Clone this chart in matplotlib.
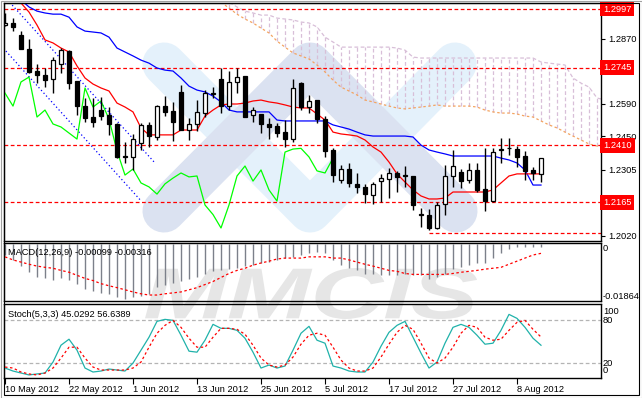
import numpy as np
import matplotlib.pyplot as plt
from matplotlib.lines import Line2D
from matplotlib.patches import Rectangle, PathPatch
from matplotlib.textpath import TextPath
from matplotlib.font_manager import FontProperties
from matplotlib.transforms import Affine2D, blended_transform_factory

plt.rcParams['font.family'] = ['Liberation Sans', 'DejaVu Sans']

# daily bars, 10 May 2012 .. 13 Aug 2012
date_labels = ["10 May 2012", "22 May 2012", "1 Jun 2012", "13 Jun 2012", "25 Jun 2012",
               "5 Jul 2012", "17 Jul 2012", "27 Jul 2012", "8 Aug 2012"]
label_bars = [0, 8, 16, 24, 32, 40, 48, 56, 64]

open_ = [1.2928, 1.2937, 1.2885, 1.2825, 1.2730, 1.2713, 1.2696, 1.2760, 1.2816, 1.2687,
         1.2579, 1.2532, 1.2562, 1.2541, 1.2502, 1.2364, 1.2360, 1.2420, 1.2498, 1.2446,
         1.2579, 1.2558, 1.2640, 1.2476, 1.2502, 1.2549, 1.2631, 1.2696, 1.2579, 1.2683,
         1.2708, 1.2541, 1.2545, 1.2502, 1.2493, 1.2467, 1.2437, 1.2678, 1.2575, 1.2605,
         1.2523, 1.2390, 1.2261, 1.2308, 1.2244, 1.2231, 1.2196, 1.2256, 1.2265, 1.2291,
         1.2282, 1.2278, 1.2116, 1.2110, 1.2054, 1.2157, 1.2278, 1.2295, 1.2261, 1.2304,
         1.2222, 1.2170, 1.2391, 1.2399, 1.2394, 1.2364, 1.2304, 1.2287]
high = [1.2980, 1.2958, 1.2902, 1.2868, 1.2760, 1.2743, 1.2790, 1.2829, 1.2820, 1.2687,
        1.2614, 1.2614, 1.2618, 1.2575, 1.2506, 1.2424, 1.2459, 1.2506, 1.2510, 1.2584,
        1.2622, 1.2597, 1.2670, 1.2528, 1.2605, 1.2648, 1.2661, 1.2743, 1.2730, 1.2743,
        1.2708, 1.2575, 1.2545, 1.2528, 1.2506, 1.2519, 1.2696, 1.2683, 1.2627, 1.2605,
        1.2536, 1.2399, 1.2325, 1.2334, 1.2291, 1.2244, 1.2252, 1.2287, 1.2312, 1.2300,
        1.2321, 1.2278, 1.2140, 1.2136, 1.2166, 1.2325, 1.2390, 1.2308, 1.2334, 1.2334,
        1.2399, 1.2399, 1.2442, 1.2442, 1.2407, 1.2386, 1.2317, 1.2355]
low = [1.2924, 1.2902, 1.2825, 1.2721, 1.2678, 1.2661, 1.2635, 1.2721, 1.2653, 1.2541,
       1.2510, 1.2489, 1.2519, 1.2455, 1.2355, 1.2334, 1.2304, 1.2390, 1.2403, 1.2433,
       1.2536, 1.2429, 1.2476, 1.2433, 1.2472, 1.2532, 1.2614, 1.2549, 1.2562, 1.2635,
       1.2532, 1.2510, 1.2463, 1.2437, 1.2446, 1.2403, 1.2424, 1.2562, 1.2549, 1.2506,
       1.2360, 1.2252, 1.2248, 1.2231, 1.2205, 1.2162, 1.2157, 1.2166, 1.2183, 1.2209,
       1.2231, 1.2132, 1.2058, 1.2046, 1.2050, 1.2110, 1.2231, 1.2226, 1.2248, 1.2209,
       1.2127, 1.2166, 1.2334, 1.2368, 1.2317, 1.2261, 1.2261, 1.2252]
close = [1.2937, 1.2920, 1.2825, 1.2726, 1.2713, 1.2691, 1.2777, 1.2820, 1.2678, 1.2579,
         1.2528, 1.2510, 1.2536, 1.2502, 1.2360, 1.2360, 1.2437, 1.2498, 1.2450, 1.2579,
         1.2554, 1.2510, 1.2476, 1.2502, 1.2554, 1.2635, 1.2635, 1.2579, 1.2683, 1.2704,
         1.2532, 1.2562, 1.2502, 1.2489, 1.2463, 1.2437, 1.2657, 1.2575, 1.2601, 1.2523,
         1.2386, 1.2282, 1.2308, 1.2248, 1.2231, 1.2200, 1.2244, 1.2269, 1.2291, 1.2274,
         1.2278, 1.2153, 1.2112, 1.2054, 1.2153, 1.2278, 1.2321, 1.2256, 1.2304, 1.2218,
         1.2170, 1.2381, 1.2394, 1.2397, 1.2360, 1.2300, 1.2291, 1.2355]

# Ichimoku
tenkan = [1.3122, 1.3070, 1.3023, 1.2984, 1.2928, 1.2864, 1.2851, 1.2829, 1.2812, 1.2752,
          1.2700, 1.2674, 1.2657, 1.2644, 1.2592, 1.2575, 1.2554, 1.2485, 1.2455, 1.2455,
          1.2455, 1.2455, 1.2476, 1.2476, 1.2476, 1.2536, 1.2562, 1.2584, 1.2588, 1.2588,
          1.2592, 1.2601, 1.2605, 1.2597, 1.2592, 1.2584, 1.2575, 1.2571, 1.2571, 1.2545,
          1.2519, 1.2467, 1.2459, 1.2455, 1.2450, 1.2433, 1.2403, 1.2381, 1.2338, 1.2287,
          1.2252, 1.2218, 1.2192, 1.2179, 1.2179, 1.2183, 1.2209, 1.2209, 1.2209, 1.2209,
          1.2209, 1.2218, 1.2248, 1.2278, 1.2287, 1.2287, 1.2287, 1.2287]
kijun = [1.3143, 1.3079, 1.3036, 1.3006, 1.2988, 1.2980, 1.2975, 1.2975, 1.2962, 1.2920,
         1.2902, 1.2898, 1.2894, 1.2876, 1.2829, 1.2812, 1.2795, 1.2777, 1.2764, 1.2743,
         1.2734, 1.2730, 1.2700, 1.2665, 1.2648, 1.2640, 1.2622, 1.2597, 1.2562, 1.2554,
         1.2554, 1.2554, 1.2554, 1.2554, 1.2519, 1.2515, 1.2515, 1.2515, 1.2515, 1.2515,
         1.2515, 1.2498, 1.2489, 1.2480, 1.2467, 1.2455, 1.2450, 1.2450, 1.2450, 1.2450,
         1.2450, 1.2446, 1.2411, 1.2390, 1.2381, 1.2373, 1.2364, 1.2364, 1.2364, 1.2364,
         1.2364, 1.2364, 1.2355, 1.2347, 1.2334, 1.2304, 1.2239, 1.2239]
chikou_shift = 26
cloud_start = 27
span_a = [1.3027, 1.3001, 1.2975, 1.2954, 1.2937, 1.2915, 1.2894, 1.2859, 1.2833, 1.2808,
          1.2795, 1.2782, 1.2756, 1.2726, 1.2691, 1.2661, 1.2644, 1.2627, 1.2605, 1.2597,
          1.2588, 1.2579, 1.2571, 1.2567, 1.2571, 1.2575, 1.2579, 1.2584, 1.2579, 1.2579,
          1.2579, 1.2579, 1.2575, 1.2562, 1.2554, 1.2549, 1.2549, 1.2545, 1.2536, 1.2532,
          1.2515, 1.2498, 1.2485, 1.2467, 1.2450, 1.2433, 1.2416, 1.2407, 1.2403]
span_b = [1.3049, 1.3027, 1.3006, 1.2988, 1.2980, 1.2971, 1.2971, 1.2958, 1.2954, 1.2950,
          1.2941, 1.2937, 1.2920, 1.2876, 1.2855, 1.2833, 1.2833, 1.2833, 1.2833, 1.2833,
          1.2833, 1.2833, 1.2829, 1.2820, 1.2790, 1.2786, 1.2786, 1.2786, 1.2786, 1.2786,
          1.2786, 1.2786, 1.2786, 1.2786, 1.2786, 1.2786, 1.2786, 1.2786, 1.2786, 1.2786,
          1.2769, 1.2764, 1.2760, 1.2756, 1.2700, 1.2678, 1.2661, 1.2614, 1.2605]

# drawn objects: levels and channel
levels = [1.2997, 1.2745, 1.2410, 1.2165]
low_level = 1.2034
low_level_bar = 53
channel = [((-0.2, 1.2828), (16.9, 1.2175)), ((0.9, 1.3014), (18.75, 1.2334))]
price_ticks = [1.2870, 1.2590, 1.2450, 1.2305, 1.2020]
hidden_ticks = [1.2730]  # under the 1.2745 box

macd_main = [-0.0037, -0.0053, -0.0073, -0.0093, -0.0107, -0.0113, -0.0117, -0.0113, -0.0117, -0.0130,
             -0.0147, -0.0153, -0.0160, -0.0163, -0.0173, -0.0180, -0.0175, -0.0170, -0.0164, -0.0142,
             -0.0134, -0.0128, -0.0120, -0.0114, -0.0107, -0.0098, -0.0090, -0.0087, -0.0081, -0.0079,
             -0.0072, -0.0068, -0.0064, -0.0059, -0.0053, -0.0048, -0.0042, -0.0037, -0.0031, -0.0028,
             -0.0031, -0.0053, -0.0070, -0.0079, -0.0087, -0.0098, -0.0098, -0.0103, -0.0103, -0.0101,
             -0.0098, -0.0103, -0.0101, -0.0114, -0.0109, -0.0098, -0.0083, -0.0076, -0.0068, -0.0064,
             -0.0064, -0.0048, -0.0030, -0.0017, -0.0010, -0.0010, -0.0010, -0.00099]
macd_signal = [-0.0043, -0.0053, -0.0060, -0.0067, -0.0073, -0.0077, -0.0080, -0.0087, -0.0093, -0.0103,
               -0.0113, -0.0120, -0.0130, -0.0137, -0.0143, -0.0150, -0.0157, -0.0163, -0.0167, -0.0167,
               -0.0163, -0.0160, -0.0157, -0.0150, -0.0143, -0.0133, -0.0123, -0.0110, -0.0097, -0.0087,
               -0.0080, -0.0070, -0.0063, -0.0057, -0.0050, -0.0047, -0.0047, -0.0047, -0.0043, -0.0043,
               -0.0043, -0.0047, -0.0047, -0.0053, -0.0060, -0.0067, -0.0073, -0.0080, -0.0087, -0.0090,
               -0.0097, -0.0100, -0.0100, -0.0100, -0.0100, -0.0100, -0.0097, -0.0093, -0.0090, -0.0087,
               -0.0083, -0.0080, -0.0077, -0.0067, -0.0057, -0.0047, -0.0037, -0.00316]
macd_min = -0.01864

stoch_k = [13.0, 8.8, 6.0, 3.3, 4.7, 6.0, 21.4, 45.1, 53.5, 38.1,
           13.0, 7.4, 8.8, 11.6, 10.2, 8.8, 20.0, 38.1, 56.3, 78.6,
           81.4, 80.0, 59.1, 36.7, 35.3, 52.1, 74.4, 68.8, 68.8, 66.0,
           54.9, 35.3, 13.0, 17.2, 13.0, 15.8, 38.1, 61.9, 71.6, 52.1,
           47.9, 15.8, 13.0, 8.8, 7.4, 7.4, 21.4, 43.7, 63.2, 73.0,
           78.6, 56.3, 34.0, 13.0, 21.4, 47.9, 70.2, 74.4, 70.2, 59.1,
           46.5, 47.9, 66.0, 88.4, 82.8, 70.2, 54.9, 45.03]
stoch_d = [14.4, 13.0, 7.4, 4.7, 3.3, 6.0, 13.0, 27.0, 42.3, 42.3,
           27.0, 14.4, 10.2, 10.2, 10.2, 10.2, 13.0, 21.4, 42.3, 61.9,
           73.0, 80.0, 70.2, 54.9, 42.3, 42.3, 56.3, 68.8, 68.8, 67.4,
           60.5, 45.1, 27.0, 17.2, 14.4, 17.2, 28.4, 46.5, 59.1, 61.9,
           59.1, 42.3, 24.2, 13.0, 8.8, 8.8, 13.0, 28.4, 46.5, 63.2,
           73.0, 67.4, 47.9, 27.0, 20.0, 27.0, 42.3, 61.9, 73.0, 70.2,
           56.3, 52.1, 53.5, 66.0, 77.2, 80.0, 67.4, 56.64]
stoch_levels = [20, 80]

o = np.array(open_)
c = np.array(close)
hi = np.array(high)
lo = np.array(low)
xs = np.arange(len(c))

W, H = 642, 398
fig = plt.figure(figsize=(W / 100, H / 100), dpi=100)
fig.patch.set_facecolor('white')
FS = 6.7
XMAX = 74.5


def panel(top, bottom):
    ax = fig.add_axes([4 / W, 1 - bottom / H, 597 / W, (bottom - top) / H])
    ax.set_facecolor('none')
    ax.set_xlim(-0.125, XMAX)
    for s in ax.spines.values():
        s.set_linewidth(1.0)
    ax.tick_params(axis='x', bottom=False, labelbottom=False)
    ax.yaxis.tick_right()
    ax.tick_params(axis='y', length=3, width=0.8, pad=2.5, labelsize=FS)
    return ax


# watermark logo and name (behind the panels)
def fxy(pts):
    return [p[0] / W for p in pts], [1 - p[1] / H for p in pts]


for pts, col in [([(164, 64), (310, 211), (455, 64)], '#e4f1fb'),
                 ([(164, 211), (310, 64), (456, 211)], '#dbe2f1')]:
    xx, yy = fxy(pts)
    fig.add_artist(Line2D(xx, yy, transform=fig.transFigure, lw=31, color=col,
                          solid_capstyle='round', solid_joinstyle='round', zorder=-5))

fp = FontProperties(family='Liberation Sans', weight='bold', style='italic')
tp = TextPath((0, 0), 'MMCIS', size=10, prop=fp)
bb = tp.get_extents()
tr = (Affine2D().translate(-bb.x0, -bb.y0)
      .scale((332 / W) / bb.width, (51 / H) / bb.height)
      .translate(145 / W, 1 - 319 / H))
fig.add_artist(PathPatch(tr.transform_path(tp), transform=fig.transFigure,
                         fc='#e6e6e6', ec='none', zorder=-4))

# ---- main price panel ----
ax1 = panel(3, 241)
ax1.set_ylim(1.1998, 1.3023)

cx = np.arange(cloud_start, cloud_start + len(span_a))
ax1.vlines(cx, span_a, span_b, colors='#d8bfd8', lw=0.9, linestyles=[(0, (3, 2))], zorder=1)
ax1.plot(cx, span_b, color='#d8bfd8', lw=0.9, ls=(0, (3, 2)), zorder=1)
ax1.plot(cx, span_a, color='#f4a460', lw=0.9, ls=(0, (2, 2)), zorder=1)

for lv in levels:
    ax1.axhline(lv, color='red', lw=0.9, ls=(0, (3, 2)), zorder=2)
ax1.hlines(low_level, low_level_bar, XMAX, color='red', lw=0.9, linestyles=[(0, (3, 2))], zorder=2)

for (x0, y0), (x1, y1) in channel:
    ax1.plot([x0, x1], [y0, y1], color='blue', lw=0.9, ls=(0, (1, 2)), zorder=2)

ax1.plot(xs, kijun, color='blue', lw=0.9, zorder=3)
ax1.plot(xs, tenkan, color='red', lw=0.9, zorder=3)
ax1.plot(xs[:len(c) - chikou_shift], c[chikou_shift:], color='#00ff00', lw=0.9, zorder=3)

up = c >= o
ax1.vlines(xs, lo, hi, color='black', lw=1.0, zorder=4)
ax1.bar(xs, np.abs(c - o), bottom=np.minimum(o, c), width=0.55,
        color=np.where(up, 'white', 'black'), edgecolor='black', linewidth=0.9, zorder=5)

ax1.set_yticks(price_ticks + hidden_ticks + levels)
ax1.set_yticklabels([f'{p:.4f}' for p in price_ticks] + [''] * (len(hidden_ticks) + len(levels)))
tb1 = blended_transform_factory(ax1.transAxes, ax1.transData)
for lv in levels:
    ax1.text(1 + 2.2 / 597, lv, f'{lv:.4f}', transform=tb1, va='center', ha='left',
             color='white', fontsize=FS, clip_on=False, zorder=10,
             bbox=dict(boxstyle='square,pad=0.3', fc='red', ec='none'))

# ---- MACD panel ----
ax2 = panel(243, 301)
ax2.set_ylim(macd_min, 0.0002)
ax2.vlines(xs, 0, macd_main, color='#7c808a', lw=1.0, zorder=2)
ax2.plot(xs, macd_signal, color='red', lw=0.9, ls=(0, (2, 2)), zorder=3)
ax2.set_yticks([])
tb2 = blended_transform_factory(ax2.transAxes, ax2.transData)
ax2.text(1 + 2 / 597, 0, '0', transform=tb2, va='top', ha='left', fontsize=FS)
ax2.text(1 + 2 / 597, macd_min, f'{macd_min:.5f}', transform=tb2, va='bottom', ha='left', fontsize=FS)
ax2.text(4 / 597, 0.83, 'MACD(12,26,9) -0.00099 -0.00316', transform=ax2.transAxes,
         va='center', ha='left', fontsize=FS, zorder=5)

# ---- Stochastic panel ----
ax3 = panel(304, 378)
ax3.set_ylim(-1, 103)
for lv in stoch_levels:
    ax3.axhline(lv, color='#b4b4b4', lw=0.9, ls=(0, (3, 2)), zorder=1)
ax3.plot(xs, stoch_k, color='#20b2aa', lw=0.9, zorder=3)
ax3.plot(xs, stoch_d, color='red', lw=0.9, ls=(0, (2, 2)), zorder=3)
ax3.set_yticks([])
tb3 = blended_transform_factory(ax3.transAxes, ax3.transData)
for val, pos in [(100, 93), (80, 80), (20, 20), (0, 9)]:
    ax3.text(1 + 2 / 597, pos, str(val), transform=tb3, va='center', ha='left', fontsize=FS)
ax3.text(4 / 597, 0.855, 'Stoch(5,3,3) 45.0292 56.6389', transform=ax3.transAxes,
         va='center', ha='left', fontsize=FS, zorder=5)

ax3.set_xticks(label_bars)
ax3.set_xticklabels(date_labels, ha='left')
ax3.tick_params(axis='x', bottom=True, labelbottom=True, length=4, width=0.8, pad=1, labelsize=FS)

# window frame
fig.add_artist(Rectangle((3.5 / W, 1 - 394.5 / H), 635 / W, 391.5 / H, transform=fig.transFigure,
                         fill=False, ec='black', lw=0.8))
fig.add_artist(Rectangle((0.5 / W, 0.5 / H), 641 / W, 397 / H, transform=fig.transFigure,
                         fill=False, ec='#a0a0a0', lw=0.8))

fig.savefig('out.png', dpi=100)
